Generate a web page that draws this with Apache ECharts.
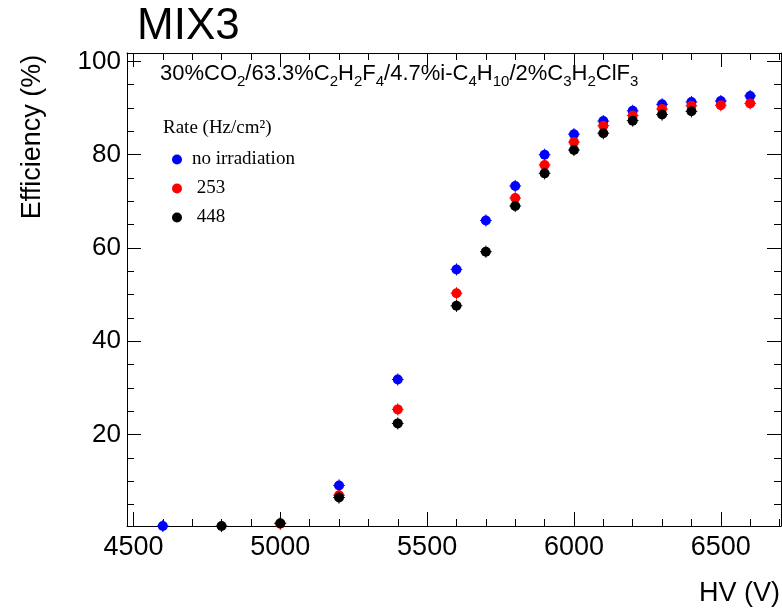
<!DOCTYPE html>
<html>
<head>
<meta charset="utf-8">
<script src="https://cdn.jsdelivr.net/npm/echarts@6/dist/echarts.min.js"></script>
<style>
  html, body { margin: 0; padding: 0; background: #fff; }
  #chart { width: 782px; height: 608px; }
</style>
</head>
<body>
<div id="chart"></div>
<script>
// HV scan points (V) and efficiencies (%) per irradiation rate
const hvNoIrr   = [4600, 5200, 5400, 5600, 5700, 5800, 5900, 6000, 6100, 6200, 6300, 6400, 6500, 6600];
const effNoIrr  = [0.4, 9.1, 31.8, 55.4, 65.9, 73.3, 80.0, 84.4, 87.2, 89.4, 90.8, 91.3, 91.5, 92.6];

const hv253     = [5000, 5200, 5400, 5600, 5800, 5900, 6000, 6100, 6200, 6300, 6400, 6500, 6600];
const eff253    = [0.9, 7.0, 25.4, 50.3, 70.7, 77.8, 82.7, 86.2, 88.4, 89.8, 90.5, 90.6, 91.0];

const hv448     = [4800, 5000, 5200, 5400, 5600, 5700, 5800, 5900, 6000, 6100, 6200, 6300, 6400];
const eff448    = [0.4, 1.0, 6.5, 22.4, 47.6, 59.2, 69.0, 76.0, 81.0, 84.6, 87.3, 88.6, 89.3];

const seriesNames = ['no irradiation', '253', '448'];

// axis tick positions
const xMajor = [4500, 5000, 5500, 6000, 6500];
const xMinor = [4600, 4700, 4800, 4900, 5100, 5200, 5300, 5400, 5600, 5700, 5800, 5900,
                6100, 6200, 6300, 6400, 6600, 6700];
const yMajor = [20, 40, 60, 80, 100];
const yMinor = [5, 10, 15, 25, 30, 35, 45, 50, 55, 65, 70, 75, 85, 90, 95];

const X_MIN = 4478, X_MAX = 6705;
const Y_MIN = 0.4, Y_MAX = 101.8;
const HV_ERR = 20;   // V
const EFF_ERR = 1.3; // %

const SANS = '"Liberation Sans", Arial, Helvetica, sans-serif';
const SERIF = '"Liberation Serif", "Times New Roman", serif';

const colors = ['#0000ff', '#ff0000', '#000000'];

function pairs(xs, ys) { return xs.map((x, i) => [x, ys[i]]); }
const sets = [pairs(hvNoIrr, effNoIrr), pairs(hv253, eff253), pairs(hv448, eff448)];

function xAxisDef(pos, ticks, len, withLabel, withLine) {
  return {
    type: 'value', position: pos, min: X_MIN, max: X_MAX,
    splitLine: { show: false },
    axisLine: { show: withLine, onZero: false, lineStyle: { color: '#000', width: 1 } },
    axisTick: { show: true, inside: true, length: len, customValues: ticks,
                lineStyle: { color: '#000', width: 1 } },
    axisLabel: withLabel ? { show: true, customValues: xMajor, margin: 8,
                formatter: v => String(v),
                fontFamily: SANS, fontSize: 27, color: '#000' } : { show: false }
  };
}
function yAxisDef(pos, ticks, len, withLabel, withLine) {
  return {
    type: 'value', position: pos, min: Y_MIN, max: Y_MAX,
    splitLine: { show: false },
    axisLine: { show: withLine, onZero: false, lineStyle: { color: '#000', width: 1 } },
    axisTick: { show: true, inside: true, length: len, customValues: ticks,
                lineStyle: { color: '#000', width: 1 } },
    axisLabel: withLabel ? { show: true, customValues: yMajor, margin: 6,
                formatter: v => String(v),
                fontFamily: SANS, fontSize: 26, color: '#000' } : { show: false }
  };
}

function errorBars(idx) {
  return {
    type: 'custom', xAxisIndex: 0, yAxisIndex: 0, silent: true, z: 2 + idx,
    data: sets[idx],
    clip: false,
    renderItem(params, api) {
      const x = api.value(0), y = api.value(1);
      const l = api.coord([x - HV_ERR, y]), r = api.coord([x + HV_ERR, y]);
      const t = api.coord([x, y + EFF_ERR]), b = api.coord([x, y - EFF_ERR]);
      const st = { stroke: colors[idx], lineWidth: 1 };
      return { type: 'group', children: [
        { type: 'line', shape: { x1: l[0], y1: l[1], x2: r[0], y2: r[1] }, style: st },
        { type: 'line', shape: { x1: t[0], y1: t[1], x2: b[0], y2: b[1] }, style: st }
      ]};
    }
  };
}

const chart = echarts.init(document.getElementById('chart'), null, { renderer: 'canvas' });

const option = {
  animation: false,
  backgroundColor: '#fff',
  grid: { left: 127, right: 1, top: 53, bottom: 82, containLabel: false },
  xAxis: [
    xAxisDef('bottom', xMajor, 14, true, true),
    xAxisDef('bottom', xMinor, 7, false, false),
    xAxisDef('top', xMajor, 14, false, true),
    xAxisDef('top', xMinor, 7, false, false)
  ],
  yAxis: [
    yAxisDef('left', yMajor, 14, true, true),
    yAxisDef('left', yMinor, 7, false, false),
    yAxisDef('right', yMajor, 14, false, true),
    yAxisDef('right', yMinor, 7, false, false)
  ],
  legend: {
    orient: 'vertical', left: 172, top: 150, padding: 0,
    itemWidth: 10, itemHeight: 10, itemGap: 10, icon: 'circle',
    data: seriesNames,
    formatter: n => (/^\d/.test(n) ? ' ' + n : n),
    textStyle: { fontFamily: SERIF, fontSize: 19, color: '#000', padding: [0, 0, 0, 5] }
  },
  series: [
    errorBars(0),
    { name: seriesNames[0], type: 'scatter', data: sets[0], symbol: 'circle', symbolSize: 10,
      itemStyle: { color: colors[0], opacity: 1 }, clip: false, z: 3 },
    errorBars(1),
    { name: seriesNames[1], type: 'scatter', data: sets[1], symbol: 'circle', symbolSize: 10,
      itemStyle: { color: colors[1], opacity: 1 }, clip: false, z: 4 },
    errorBars(2),
    { name: seriesNames[2], type: 'scatter', data: sets[2], symbol: 'circle', symbolSize: 10,
      itemStyle: { color: colors[2], opacity: 1 }, clip: false, z: 5 }
  ],
  graphic: [
    { type: 'text', left: 137, top: 5,
      style: { text: 'MIX3', fontFamily: SANS, fontSize: 44, fill: '#000' } },
    { type: 'text', left: 160, top: 59,
      style: {
        text: '30%CO{s|2}/63.3%C{s|2}H{s|2}F{s|4}/4.7%i-C{s|4}H{s|10}/2%C{s|3}H{s|2}ClF{s|3}',
        fontFamily: SANS, fontSize: 22, lineHeight: 30, fill: '#000',
        rich: { s: { fontFamily: SANS, fontSize: 15, lineHeight: 15, fill: '#000',
                     verticalAlign: 'bottom' } }
      } },
    { type: 'text', left: 163, top: 119,
      style: { text: 'Rate (Hz/cm²)', fontFamily: SERIF, fontSize: 19, fill: '#000' } },
    { type: 'text', x: 33, y: 137, rotation: Math.PI / 2,
      style: { text: 'Efficiency (%)', fontFamily: SANS, fontSize: 27, fill: '#000',
               align: 'center', verticalAlign: 'middle' } },
    { type: 'text', x: 780, y: 594,
      style: { text: 'HV (V)', fontFamily: SANS, fontSize: 27, fill: '#000',
               align: 'right', verticalAlign: 'middle' } }
  ]
};

chart.setOption(option);
</script>
</body>
</html>
